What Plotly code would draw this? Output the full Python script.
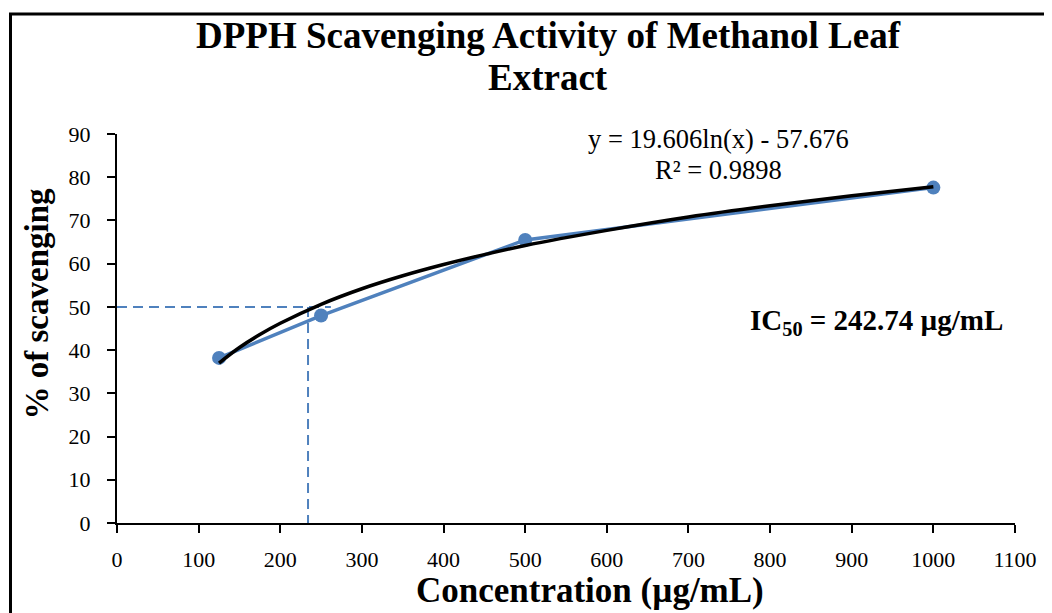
import plotly.graph_objects as go

# Data
conc = [125, 250, 500, 1000]
scavenging = [38.2, 48.0, 65.5, 77.6]

# Logarithmic trendline
trend_x = [125, 150, 175, 200, 250, 300, 350, 400, 450, 500, 600, 700, 800, 900, 1000]
trend_y = [37.0, 40.6, 43.6, 46.2, 50.6, 54.2, 57.2, 59.8, 62.1, 64.2, 67.7, 70.8, 73.4, 75.7, 77.8]

# IC50 guide lines
guide_h_x = [0, 262]
guide_h_y = [50, 50]
guide_v_x = [234, 234]
guide_v_y = [50, 0]

x_ticks = [0, 100, 200, 300, 400, 500, 600, 700, 800, 900, 1000, 1100]
y_ticks = [0, 10, 20, 30, 40, 50, 60, 70, 80, 90]

title_line1 = "DPPH Scavenging Activity of Methanol Leaf"
title_line2 = "Extract"
x_title = "Concentration (µg/mL)"
y_title = "% of scavenging"
eq_text = "y = 19.606ln(x) - 57.676"
r2_text = "R² = 0.9898"
ic50_text = "IC<sub>50</sub> = 242.74 µg/mL"

BLUE = "#4F81BD"
FONT = "Liberation Serif, Times New Roman, serif"

PX0, PX1, PY0, PY1 = 117, 1015, 134, 523


def px(page_x):
    return (page_x - PX0) / (PX1 - PX0)


def py(page_y):
    return (PY1 - page_y) / (PY1 - PY0)


fig = go.Figure()

fig.add_trace(go.Scatter(x=guide_h_x, y=guide_h_y, mode="lines",
                         line=dict(color=BLUE, width=2, dash="10px,6px"),
                         showlegend=False, hoverinfo="skip"))
fig.add_trace(go.Scatter(x=guide_v_x, y=guide_v_y, mode="lines",
                         line=dict(color=BLUE, width=2, dash="10px,6px"),
                         showlegend=False, hoverinfo="skip"))
fig.add_trace(go.Scatter(x=conc, y=scavenging, mode="lines+markers",
                         line=dict(color=BLUE, width=3.5),
                         marker=dict(color=BLUE, size=14),
                         showlegend=False, name="% scavenging"))
fig.add_trace(go.Scatter(x=trend_x, y=trend_y, mode="lines",
                         line=dict(color="black", width=3.5, shape="spline"),
                         showlegend=False, name="Log. trendline"))

fig.update_layout(
    width=1052, height=613,
    margin=dict(l=109, r=45, t=126, b=98),
    paper_bgcolor="white", plot_bgcolor="white",
    font=dict(family=FONT, color="black"),
    xaxis=dict(range=[0, 1100], tickvals=x_ticks, ticktext=[str(v) for v in x_ticks],
               showgrid=False, zeroline=False, showline=True, linecolor="black", linewidth=2,
               ticks="outside", ticklen=8, tickwidth=2, tickcolor="black",
               tickfont=dict(family=FONT, size=22, color="black"), ticklabelstandoff=8),
    yaxis=dict(range=[0, 90], tickvals=y_ticks, ticktext=[str(v) for v in y_ticks],
               showgrid=False, zeroline=False, showline=True, linecolor="black", linewidth=2,
               ticks="outside", ticklen=8, tickwidth=2, tickcolor="black",
               tickfont=dict(family=FONT, size=22, color="black"), ticklabelstandoff=12),
    annotations=[
        dict(x=px(548), y=py(35), xref="paper", yref="paper", text="<b>" + title_line1 + "</b>",
             showarrow=False, xanchor="center", yanchor="middle",
             font=dict(family=FONT, size=37, color="black")),
        dict(x=px(548), y=py(78), xref="paper", yref="paper", text="<b>" + title_line2 + "</b>",
             showarrow=False, xanchor="center", yanchor="middle",
             font=dict(family=FONT, size=37, color="black")),
        dict(x=px(590), y=py(590), xref="paper", yref="paper", text="<b>" + x_title + "</b>",
             showarrow=False, xanchor="center", yanchor="middle",
             font=dict(family=FONT, size=35, color="black")),
        dict(x=px(36.5), y=py(304), xref="paper", yref="paper", text="<b>" + y_title + "</b>",
             showarrow=False, xanchor="center", yanchor="middle", textangle=-90,
             font=dict(family=FONT, size=33, color="black")),
        dict(x=737, y=88.9, xref="x", yref="y", text=eq_text, showarrow=False,
             xanchor="center", yanchor="middle", font=dict(family=FONT, size=26.5, color="black")),
        dict(x=737, y=81.7, xref="x", yref="y", text=r2_text, showarrow=False,
             xanchor="center", yanchor="middle", font=dict(family=FONT, size=26.5, color="black")),
        dict(x=773, y=46.5, xref="x", yref="y", text="<b>" + ic50_text + "</b>", showarrow=False,
             xanchor="left", yanchor="middle", font=dict(family=FONT, size=29, color="black")),
    ],
    shapes=[
        dict(type="rect", xref="paper", yref="paper", layer="above",
             x0=px(10.5), x1=px(1100), y0=py(700), y1=py(14),
             line=dict(color="black", width=3), fillcolor="rgba(0,0,0,0)"),
    ],
)

fig.write_html("out.html")
